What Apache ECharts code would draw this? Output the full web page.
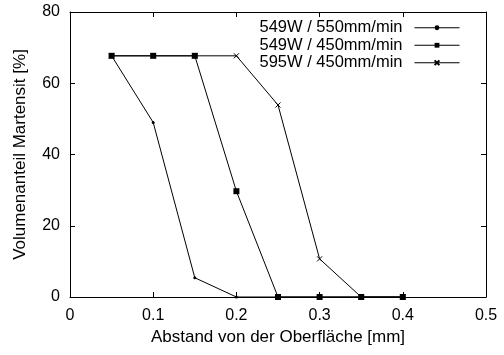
<!DOCTYPE html>
<html>
<head>
<meta charset="utf-8">
<script src="https://cdn.jsdelivr.net/npm/echarts@6/dist/echarts.min.js"></script>
<style>
  html, body { margin: 0; padding: 0; background: #fff; }
  #chart { width: 504px; height: 355px; }
</style>
</head>
<body>
<div id="chart"></div>
<script>
// Distance from surface [mm] and martensite volume fraction [%]
const distances = [0.05, 0.10, 0.15, 0.20, 0.25, 0.30, 0.35, 0.40];
const s549w550 = [67.7, 49.0, 5.4, 0, 0, 0, 0, 0];
const s549w450 = [67.7, 67.7, 67.7, 29.7, 0, 0, 0, 0];
const s595w450 = [67.7, 67.7, 67.7, 67.7, 53.9, 10.7, 0, 0];
const seriesNames = ['549W / 550mm/min', '549W / 450mm/min', '595W / 450mm/min'];
const xTicks = [0, 0.1, 0.2, 0.3, 0.4, 0.5];
const yTicks = [0, 20, 40, 60, 80];

const font = 'Liberation Sans, Arial, sans-serif';
const pairs = vals => distances.map((d, i) => [d, vals[i]]);

const baseX = {
  type: 'value', min: 0, max: 0.5, interval: 0.1,
  axisLine: { show: true, onZero: false, lineStyle: { color: '#000', width: 1 } },
  axisTick: { show: true, inside: true, length: 5, lineStyle: { color: '#000' } },
  splitLine: { show: false }
};
const baseY = {
  type: 'value', min: 0, max: 80, interval: 20,
  axisLine: { show: true, onZero: false, lineStyle: { color: '#000', width: 1 } },
  axisTick: { show: true, inside: true, length: 5, lineStyle: { color: '#000' } },
  splitLine: { show: false }
};

const crossPath = 'path://M0,0L10,10M10,0L0,10';

const chart = echarts.init(document.getElementById('chart'), null, { renderer: 'canvas' });
chart.setOption({
  animation: false,
  backgroundColor: '#fff',
  textStyle: { fontFamily: font },
  grid: { left: 70, right: 18, top: 12, bottom: 58 },
  legend: {
    orient: 'vertical', right: 39, top: 14, align: 'right',
    itemWidth: 45, itemHeight: 6, itemGap: 0,
    lineStyle: { width: 1, color: '#000' },
    textStyle: { fontFamily: font, fontSize: 16.5, lineHeight: 17.5, color: '#000', padding: [0, 7, 0, 0] },
    data: seriesNames
  },
  xAxis: [
    Object.assign({}, baseX, {
      position: 'bottom',
      name: 'Abstand von der Oberfläche [mm]', nameLocation: 'middle', nameGap: 31,
      nameTextStyle: { fontFamily: font, fontSize: 17, color: '#000' },
      axisLabel: { fontFamily: font, fontSize: 16, color: '#000', margin: 11,
        formatter: v => xTicks.includes(Math.round(v * 10) / 10) ? String(Math.round(v * 10) / 10) : '' }
    }),
    Object.assign({}, baseX, { position: 'top', axisLabel: { show: false } })
  ],
  yAxis: [
    Object.assign({}, baseY, {
      position: 'left',
      name: 'Volumenanteil Martensit [%]', nameLocation: 'middle', nameGap: 41,
      nameTextStyle: { fontFamily: font, fontSize: 17, color: '#000' },
      axisLabel: { fontFamily: font, fontSize: 16, color: '#000', margin: 10,
        formatter: v => yTicks.includes(v) ? String(v) : '' }
    }),
    Object.assign({}, baseY, { position: 'right', axisLabel: { show: false } })
  ],
  series: [
    {
      name: seriesNames[0], type: 'line', data: pairs(s549w550),
      symbol: 'circle', symbolSize: 3, showAllSymbol: true,
      lineStyle: { color: '#000', width: 1 },
      itemStyle: { color: '#000' }, z: 3
    },
    {
      name: seriesNames[1], type: 'line', data: pairs(s549w450),
      symbol: 'rect', symbolSize: 6, showAllSymbol: true,
      lineStyle: { color: '#000', width: 1 },
      itemStyle: { color: '#000' }, z: 4
    },
    {
      name: seriesNames[2], type: 'line', data: pairs(s595w450),
      symbol: crossPath, symbolSize: 5, showAllSymbol: true,
      lineStyle: { color: '#000', width: 1 },
      itemStyle: { color: 'none', borderColor: '#000', borderWidth: 1 }, z: 2
    }
  ]
});
</script>
</body>
</html>
